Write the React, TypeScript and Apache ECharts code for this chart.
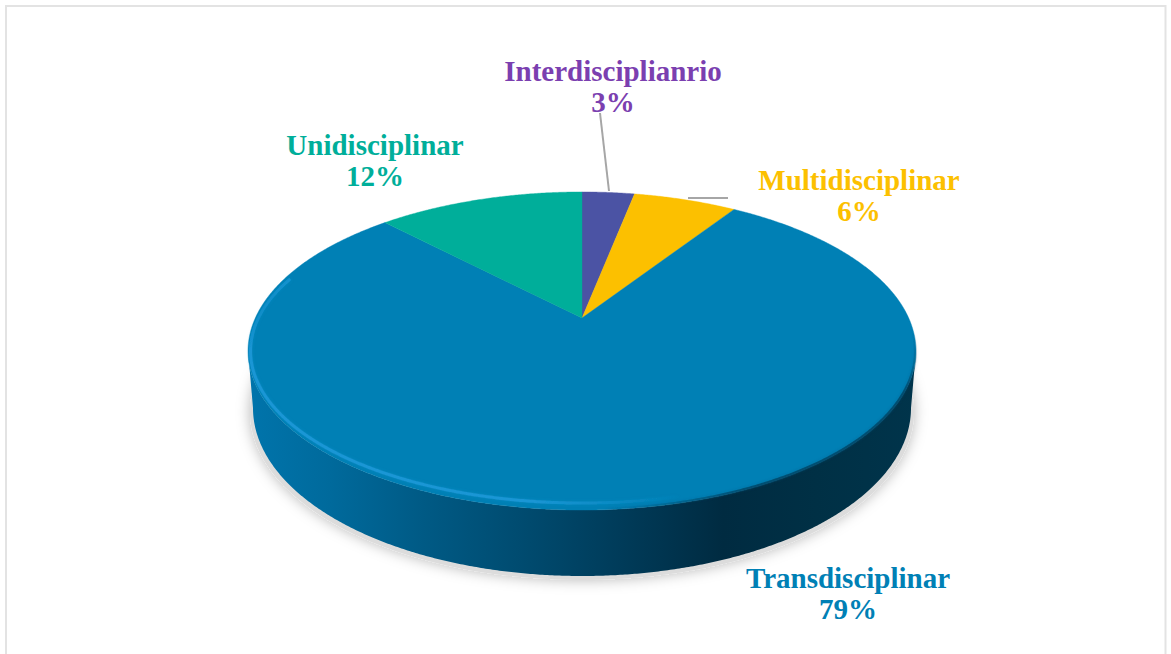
import React, { useEffect, useRef } from "react";
import * as echarts from "echarts";

const categories = ["Interdisciplianrio", "Multidisciplinar", "Transdisciplinar", "Unidisciplinar"];
const shares = [3.1, 6.1, 78.6, 12.2];
const shareLabels = ["3%", "6%", "79%", "12%"];
const sliceColors = ["#4b53a4", "#fcc000", "#0080b5", "#00ae9a"];
const labelColors = ["#7b3fb0", "#fcc000", "#0080b5", "#00ae9a"];

// Geometry of the tilted disc: a perspective projection of a unit circle.
const APEX_X = 582;
const APEX_Y = 318;
const K = -0.2075;
const A = 326.7;
const B = 152.2;
const TOP_CY = APEX_Y + (B * -K) / (1 - K * K);
const TOP_RX = A / Math.sqrt(1 - K * K);
const TOP_RY = B / (1 - K * K);
const LOW_CY = 408;
const LOW_RX = 329;
const LOW_RY = 168;
const TAU = Math.PI * 2;

const labelSpots = [
  [613, 86],
  [859, 195],
  [848, 593],
  [375, 160],
];

const project = (ang: number) => {
  const u = Math.sin(ang);
  const v = -Math.cos(ang);
  const d = 1 + K * v;
  return [APEX_X + (A * u) / d, APEX_Y + (B * v) / d];
};
const phiOf = (p: number[]) => Math.atan2((p[1] - TOP_CY) / TOP_RY, (p[0] - APEX_X) / TOP_RX);

const total = shares.reduce((s, v) => s + v, 0);
const rangeOf = (i: number) => {
  const before = shares.slice(0, i).reduce((s, v) => s + v, 0);
  return [(before / total) * TAU, ((before + shares[i]) / total) * TAU];
};
const sample = (a0: number, a1: number) => {
  const n = Math.max(4, Math.ceil((a1 - a0) / 0.006));
  const out: number[][] = [];
  for (let j = 0; j <= n; j++) out.push(project(a0 + ((a1 - a0) * j) / n));
  return out;
};
const lineGrad = (x0: number, y0: number, x1: number, y1: number, stops: [number, string][]) =>
  new echarts.graphic.LinearGradient(
    x0, y0, x1, y1,
    stops.map(([offset, color]) => ({ offset, color })),
    true
  );

const renderSide = (params: any) => {
  const [a0, a1] = rangeOf(params.dataIndex);
  const phis = sample(a0, a1).map(phiOf);
  const front = phis.filter((f) => f >= 0 && f <= Math.PI);
  if (front.length < 2) return { type: "group", children: [] };
  // close the wall exactly on the disc's left and right extremes
  const sweep = [0, ...front, Math.PI].sort((x, y) => x - y);
  const lo = Math.min(...phis.map((f) => (f < -Math.PI / 2 ? f + TAU : f)));
  const hi = Math.max(...phis.map((f) => (f < -Math.PI / 2 ? f + TAU : f)));
  const kept = sweep.filter((f) => f >= lo - 1e-6 && f <= hi + 1e-6);
  const top = kept.map((f) => [APEX_X + TOP_RX * Math.cos(f), TOP_CY + TOP_RY * Math.sin(f)]);
  const low = kept.map((f) => [APEX_X + LOW_RX * Math.cos(f), LOW_CY + LOW_RY * Math.sin(f)]);
  return {
    type: "polygon",
    silent: true,
    shape: { points: [...top, ...low.reverse()] },
    style: {
      fill: lineGrad(250, 0, 916, 0, [
        [0, "#0074ab"],
        [0.12, "#006a9c"],
        [0.26, "#005a85"],
        [0.42, "#004a6e"],
        [0.56, "#003b59"],
        [0.71, "#002b41"],
        [0.85, "#003045"],
        [1, "#00344b"],
      ]),
    },
  };
};

const renderTop = (params: any) => {
  const i = params.dataIndex;
  const [a0, a1] = rangeOf(i);
  const edge = sample(a0, a1);
  const children: any[] = [
    {
      type: "polygon",
      shape: { points: [[APEX_X, APEX_Y], ...edge] },
      style: { fill: sliceColors[i], stroke: sliceColors[i], lineWidth: 0.4 },
    },
  ];
  const phis = edge.map(phiOf).map((f) => (f < -Math.PI / 2 ? f + TAU : f));
  const hi = phis.filter((f) => f > 1.2 && f < Math.PI + 0.5);
  if (hi.length > 2) {
    children.push({
      type: "polyline",
      shape: {
        points: hi.map((f) => [APEX_X + (TOP_RX - 2.5) * Math.cos(f), TOP_CY + (TOP_RY - 7) * Math.sin(f)]),
      },
      style: {
        fill: "none",
        lineWidth: 3,
        stroke: lineGrad(290, 240, 750, 540, [
          [0, "rgba(30,155,220,0)"],
          [0.05, "rgba(30,155,220,0.75)"],
          [0.62, "rgba(30,155,220,0.75)"],
          [0.85, "rgba(30,155,220,0)"],
        ]),
        shadowBlur: 3,
        shadowColor: "rgba(30,155,220,0.5)",
      },
    });
  }
  const rimDark = phis.filter((f) => f > -0.35 && f < 2.0);
  if (rimDark.length > 2) {
    children.push({
      type: "polyline",
      shape: {
        points: rimDark.map((f) => [APEX_X + (TOP_RX - 0.5) * Math.cos(f), TOP_CY + (TOP_RY - 0.5) * Math.sin(f)]),
      },
      style: {
        fill: "none",
        lineWidth: 3,
        stroke: lineGrad(900, 310, 600, 505, [
          [0, "rgba(0,60,90,0)"],
          [0.12, "rgba(0,60,90,0.7)"],
          [0.6, "rgba(0,60,90,0.7)"],
          [1, "rgba(0,60,90,0)"],
        ]),
        shadowBlur: 3,
        shadowColor: "rgba(0,60,90,0.35)",
      },
    });
  }
  return { type: "group", children, silent: true };
};

const renderLabel = (params: any) => {
  const i = params.dataIndex;
  return {
    type: "text",
    silent: true,
    style: {
      text: `${categories[i]}\n${shareLabels[i]}`,
      x: labelSpots[i][0],
      y: labelSpots[i][1],
      fill: labelColors[i],
      font: 'bold 29px "Liberation Serif"',
      lineHeight: 31,
      align: "center",
      verticalAlign: "middle",
    },
  };
};

export default function App() {
  const ref = useRef<HTMLDivElement>(null);
  useEffect(() => {
    const chart = echarts.init(ref.current!, undefined, { renderer: "svg" });
    chart.setOption({
      animation: false,
      backgroundColor: "#ffffff",
      graphic: [
        {
          type: "polyline",
          silent: true,
          shape: { points: [[6, 654], [6, 6], [1165.5, 6], [1165.5, 654]] },
          style: { fill: "none", stroke: "#e3e3e3", lineWidth: 2 },
        },
        {
          type: "ellipse",
          silent: true,
          shape: { cx: 582, cy: 412, rx: 332, ry: 168 },
          style: { fill: "#dcdcdc", shadowBlur: 14, shadowColor: "rgba(0,0,0,0.28)" },
        },
        {
          type: "line",
          silent: true,
          shape: { x1: 600, y1: 113, x2: 609, y2: 191 },
          style: { stroke: "#a6a6a6", lineWidth: 2 },
        },
        {
          type: "line",
          silent: true,
          shape: { x1: 688, y1: 198, x2: 728, y2: 198 },
          style: { stroke: "#a6a6a6", lineWidth: 2 },
        },
      ],
      series: [
        { type: "custom", coordinateSystem: "none", z: 2, data: shares, renderItem: renderSide, silent: true },
        { type: "custom", coordinateSystem: "none", z: 3, data: shares, renderItem: renderTop, silent: true },
        { type: "custom", coordinateSystem: "none", z: 4, data: shares, renderItem: renderLabel, silent: true },
      ],
    });
    return () => chart.dispose();
  }, []);
  return <div ref={ref} style={{ position: "fixed", left: 0, top: 0, width: 1171, height: 654 }} />;
}
